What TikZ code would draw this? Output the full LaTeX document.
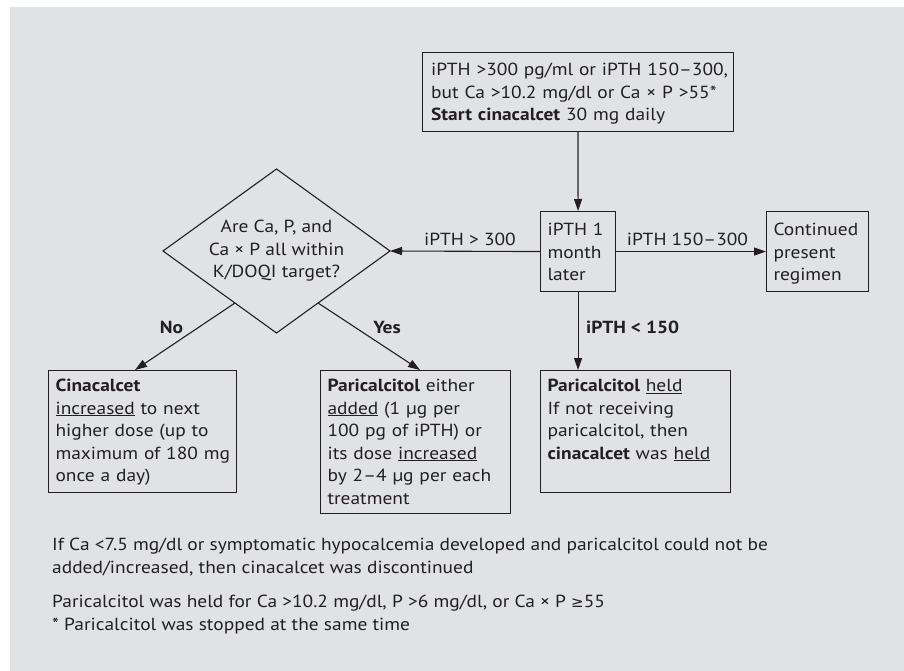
\documentclass[tikz,border=0pt]{standalone}
\usepackage{fontspec}
\setmainfont{PT Sans}[FakeStretch=1.11]
\newfontfamily\symfont{DejaVu Sans}
\usetikzlibrary{arrows.meta,calc}
\definecolor{bgc}{HTML}{E1E2E4}
\definecolor{ink}{HTML}{231F20}
\newcommand\tstr[1]{\rule{0pt}{#1}}
\newcommand\bstr[1]{\rule[-#1]{0pt}{#1}}
\newcommand\ml[1]{\mbox{#1}}
\newcommand\bodyfont{\fontsize{17.5}{22.5}\selectfont}
\newlength\toplen
\begin{document}
\settowidth\toplen{\bodyfont iPTH >300 pg/ml or iPTH 150–300,}
\begin{tikzpicture}[x=1pt,y=-1pt,
  every node/.style={text=ink, font=\bodyfont},
  box/.style={draw=ink, line width=1.1pt, anchor=north west, inner xsep=7pt, inner ysep=0pt, align=left},
  arr/.style={draw=ink, line width=1.1pt, -{Triangle[length=12pt,width=8pt]}},
  lbl/.style={anchor=base, inner sep=0pt},
  note/.style={anchor=base west, inner sep=0pt},
]
\useasboundingbox (0,0) rectangle (904,671);
\fill[bgc] (10,7) rectangle (904,671);

% boxes
\node[box, anchor=north, inner xsep=8.5pt, text width=\toplen] (start) at (578,52)
  {\tstr{23pt}\ml{iPTH >300 pg/ml or iPTH 150–300,}\\
   \ml{but Ca >10.2 mg/dl or Ca × P >55*}\\
   \ml{\textbf{Start cinacalcet} 30 mg daily}\bstr{11pt}};
\node[box, text width=61pt] (mid) at (540,211)
  {\tstr{24pt}\ml{iPTH 1}\\ \ml{month}\\ \ml{later}\bstr{11pt}};
\node[box, text width=88pt] (cont) at (766,211)
  {\tstr{24pt}\ml{Continued}\\ \ml{present}\\ \ml{regimen}\bstr{11pt}};
\node[box, text width=174pt] (lbox) at (48,370)
  {\tstr{21pt}\ml{\textbf{Cinacalcet}}\\
   \ml{\underline{increased} to next}\\
   \ml{higher dose (up to}\\
   \ml{maximum of 180 mg}\\
   \ml{once a day)}\bstr{11pt}};
\node[box, text width=176pt] (pbox) at (320,370)
  {\tstr{21pt}\ml{\textbf{Paricalcitol} either}\\
   \ml{\underline{added} (1 µg per}\\
   \ml{100 pg of iPTH) or}\\
   \ml{its dose \underline{increased}}\\
   \ml{by 2–4 µg per each}\\
   \ml{treatment}\bstr{9pt}};
\node[box, text width=176pt] (hold) at (540,370)
  {\tstr{21pt}\ml{\textbf{Paricalcitol} \underline{held}}\\
   \ml{If not receiving}\\
   \ml{paricalcitol, then}\\
   \ml{\textbf{cinacalcet} was \underline{held}}\bstr{33.5pt}};

% decision diamond
\coordinate (dL) at (163,251);
\coordinate (dT) at (276.5,169);
\coordinate (dR) at (390,251);
\coordinate (dB) at (276.5,333);
\draw[draw=ink, line width=1.1pt] (dL) -- (dT) -- (dR) -- (dB) -- cycle;
\node[align=center, inner sep=0pt] (q) at (276.5,251)
  {Are Ca, P, and\\ Ca × P all within\\ K/DOQI target?};

% connectors
\draw[arr] (start.south) -- (mid.north);
\draw[arr] (mid.west) -- (dR);
\draw[arr] (mid.east) -- (cont.west);
\draw[arr] (mid.south) -- (mid.south |- hold.north);
\coordinate (noS) at ($(dL)!0.634!(dB)$);
\coordinate (noE) at ($(lbox.north west)+(87,0)$);
\coordinate (yesS) at ($(dR)!0.634!(dB)$);
\coordinate (yesE) at ($(pbox.north west)+(100,0)$);
\draw[arr] (noS) -- (noE);
\draw[arr] (yesS) -- (yesE);

% connector labels
\node[lbl] (l300) at (470,245) {iPTH > 300};
\node[lbl] (l150) at (687.5,245) {iPTH 150–300};
\node[note] (llt) at (586,333) {\textbf{iPTH < 150}};
\node[lbl] (lno) at (171.5,333) {\textbf{No}};
\node[lbl] (lyes) at (387,333) {\textbf{Yes}};

% notes
\node[note] (n1) at (52,550.5) {If Ca <7.5 mg/dl or symptomatic hypocalcemia developed and paricalcitol could not be};
\node[note] (n2) at (52,573) {added/increased, then cinacalcet was discontinued};
\node[note] (n3) at (52,607) {Paricalcitol was held for Ca >10.2 mg/dl, P >6 mg/dl, or Ca × P {\symfont\fontsize{15}{20}\selectfont ≥}55};
\node[note] (n4) at (52,630) {* Paricalcitol was stopped at the same time};
\end{tikzpicture}
\end{document}
